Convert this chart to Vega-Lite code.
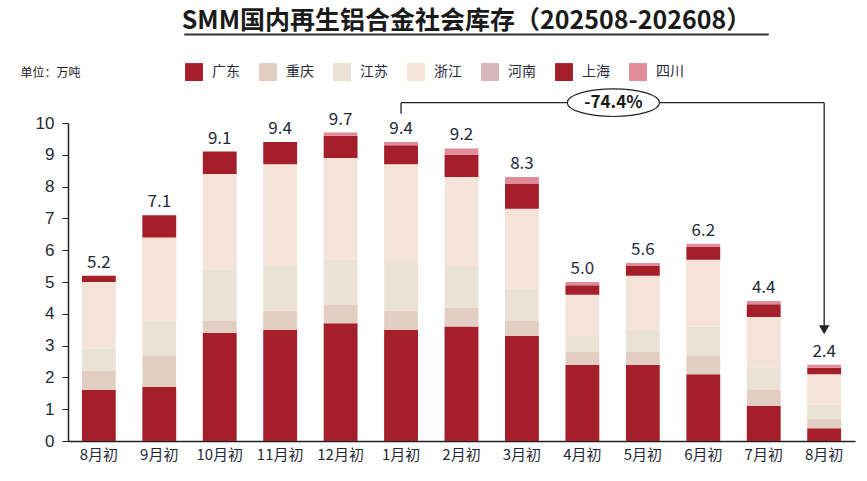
{
  "$schema": "https://vega.github.io/schema/vega-lite/v6.json",
  "autosize": "none",
  "width": 787,
  "height": 318,
  "padding": {"left": 68, "top": 123, "right": 12, "bottom": 40},
  "background": "white",
  "config": {
    "font": "Noto Sans CJK SC",
    "view": {"stroke": null},
    "axis": {"grid": false, "domainColor": "#222222", "domainWidth": 1.5, "labelColor": "#1f2937", "tickColor": "#222222"},
    "axisY": {"labelOverlap": false, "tickSize": 6, "labelFontSize": 17, "labelPadding": 8}
  },
  "title": {
    "text": "SMM国内再生铝合金社会库存（202508-202608）",
    "fontSize": 25,
    "fontWeight": "bold",
    "color": "#1a1a1a",
    "anchor": "middle",
    "offset": 0,
    "dx": 5
  },
  "datasets": {
    "stock": [
      {"m": "2025-08", "p": "广东", "v": 1.6}, {"m": "2025-08", "p": "重庆", "v": 0.6}, {"m": "2025-08", "p": "江苏", "v": 0.7}, {"m": "2025-08", "p": "浙江", "v": 2.1}, {"m": "2025-08", "p": "上海", "v": 0.2},
      {"m": "2025-09", "p": "广东", "v": 1.7}, {"m": "2025-09", "p": "重庆", "v": 1.0}, {"m": "2025-09", "p": "江苏", "v": 1.1}, {"m": "2025-09", "p": "浙江", "v": 2.6}, {"m": "2025-09", "p": "上海", "v": 0.7},
      {"m": "2025-10", "p": "广东", "v": 3.4}, {"m": "2025-10", "p": "重庆", "v": 0.4}, {"m": "2025-10", "p": "江苏", "v": 1.6}, {"m": "2025-10", "p": "浙江", "v": 3.0}, {"m": "2025-10", "p": "上海", "v": 0.7},
      {"m": "2025-11", "p": "广东", "v": 3.5}, {"m": "2025-11", "p": "重庆", "v": 0.6}, {"m": "2025-11", "p": "江苏", "v": 1.4}, {"m": "2025-11", "p": "浙江", "v": 3.2}, {"m": "2025-11", "p": "上海", "v": 0.7},
      {"m": "2025-12", "p": "广东", "v": 3.7}, {"m": "2025-12", "p": "重庆", "v": 0.6}, {"m": "2025-12", "p": "江苏", "v": 1.4}, {"m": "2025-12", "p": "浙江", "v": 3.2}, {"m": "2025-12", "p": "上海", "v": 0.7}, {"m": "2025-12", "p": "四川", "v": 0.1},
      {"m": "2026-01", "p": "广东", "v": 3.5}, {"m": "2026-01", "p": "重庆", "v": 0.6}, {"m": "2026-01", "p": "江苏", "v": 1.5}, {"m": "2026-01", "p": "浙江", "v": 3.1}, {"m": "2026-01", "p": "上海", "v": 0.6}, {"m": "2026-01", "p": "四川", "v": 0.1},
      {"m": "2026-02", "p": "广东", "v": 3.6}, {"m": "2026-02", "p": "重庆", "v": 0.6}, {"m": "2026-02", "p": "江苏", "v": 1.3}, {"m": "2026-02", "p": "浙江", "v": 2.8}, {"m": "2026-02", "p": "上海", "v": 0.7}, {"m": "2026-02", "p": "四川", "v": 0.2},
      {"m": "2026-03", "p": "广东", "v": 3.3}, {"m": "2026-03", "p": "重庆", "v": 0.5}, {"m": "2026-03", "p": "江苏", "v": 1.0}, {"m": "2026-03", "p": "浙江", "v": 2.5}, {"m": "2026-03", "p": "上海", "v": 0.8}, {"m": "2026-03", "p": "四川", "v": 0.2},
      {"m": "2026-04", "p": "广东", "v": 2.4}, {"m": "2026-04", "p": "重庆", "v": 0.4}, {"m": "2026-04", "p": "江苏", "v": 0.5}, {"m": "2026-04", "p": "浙江", "v": 1.3}, {"m": "2026-04", "p": "上海", "v": 0.3}, {"m": "2026-04", "p": "四川", "v": 0.1},
      {"m": "2026-05", "p": "广东", "v": 2.4}, {"m": "2026-05", "p": "重庆", "v": 0.4}, {"m": "2026-05", "p": "江苏", "v": 0.7}, {"m": "2026-05", "p": "浙江", "v": 1.7}, {"m": "2026-05", "p": "上海", "v": 0.3}, {"m": "2026-05", "p": "四川", "v": 0.1},
      {"m": "2026-06", "p": "广东", "v": 2.1}, {"m": "2026-06", "p": "重庆", "v": 0.6}, {"m": "2026-06", "p": "江苏", "v": 0.9}, {"m": "2026-06", "p": "浙江", "v": 2.1}, {"m": "2026-06", "p": "上海", "v": 0.4}, {"m": "2026-06", "p": "四川", "v": 0.1},
      {"m": "2026-07", "p": "广东", "v": 1.1}, {"m": "2026-07", "p": "重庆", "v": 0.5}, {"m": "2026-07", "p": "江苏", "v": 0.7}, {"m": "2026-07", "p": "浙江", "v": 1.6}, {"m": "2026-07", "p": "上海", "v": 0.4}, {"m": "2026-07", "p": "四川", "v": 0.1},
      {"m": "2026-08", "p": "广东", "v": 0.4}, {"m": "2026-08", "p": "重庆", "v": 0.3}, {"m": "2026-08", "p": "江苏", "v": 0.45}, {"m": "2026-08", "p": "浙江", "v": 0.95}, {"m": "2026-08", "p": "上海", "v": 0.2}, {"m": "2026-08", "p": "四川", "v": 0.1}
    ],
    "legs": [
      {"m": "2026-01", "y": 10.29, "y2": 10.64},
      {"m": "2026-08", "y": 10.64, "y2": 3.5}
    ],
    "span": [
      {"m": "2026-01", "m2": "2026-08", "y": 10.64}
    ],
    "head": [
      {"m": "2026-08", "y": 3.5}
    ],
    "change": [
      {"m": "2026-04", "y": 10.64, "label": "-74.4%"}
    ],
    "underline": [
      {"m": "2025-09", "m2": "2026-07", "y": 12.78}
    ]
  },
  "layer": [
    {
      "data": {"name": "stock"},
      "transform": [
        {"calculate": "indexof(['广东','重庆','江苏','浙江','河南','上海','四川'], datum.p)", "as": "ord"}
      ],
      "mark": {"type": "bar"},
      "encoding": {
        "x": {
          "field": "m",
          "type": "nominal",
          "scale": {"type": "band", "domain": ["2025-08","2025-09","2025-10","2025-11","2025-12","2026-01","2026-02","2026-03","2026-04","2026-05","2026-06","2026-07","2026-08"], "paddingInner": 0.44, "paddingOuter": 0.23},
          "axis": {"title": null, "labelAngle": 0, "ticks": false, "labelFontSize": 15, "labelPadding": 6, "labelExpr": "toNumber(slice(datum.value, 5)) + '月初'"}
        },
        "y": {
          "field": "v",
          "type": "quantitative",
          "stack": "zero",
          "scale": {"domain": [0, 10], "nice": false},
          "axis": {
            "title": "单位：万吨",
            "titleAngle": 0,
            "titleAlign": "left",
            "titleBaseline": "middle",
            "titleX": -48,
            "titleY": -51,
            "titleFontSize": 12,
            "titleFontWeight": "normal",
            "titleColor": "#222222",
            "values": [0,1,2,3,4,5,6,7,8,9,10],
            "labelOverlap": false,
            "labelFont": "Liberation Sans",
            "labelFontSize": 17,
            "labelPadding": 8
          }
        },
        "color": {
          "field": "p",
          "type": "nominal",
          "scale": {
            "domain": ["广东","重庆","江苏","浙江","河南","上海","四川"],
            "range": ["#a51f2b","#e3cec4","#eae2d4","#f3e3d8","#d8b7ba","#a51f2b","#e08c9a"]
          },
          "legend": {
            "title": null,
            "orient": "none",
            "legendX": 117,
            "legendY": -60,
            "direction": "horizontal",
            "symbolType": "square",
            "symbolSize": 320,
            "symbolStrokeWidth": 0,
            "labelFontSize": 14,
            "labelColor": "#2b2b3b",
            "labelOffset": 9,
            "columnPadding": 19
          }
        },
        "order": {"field": "ord", "type": "quantitative"}
      }
    },
    {
      "data": {"name": "stock"},
      "transform": [
        {"aggregate": [{"op": "sum", "field": "v", "as": "total"}], "groupby": ["m"]}
      ],
      "mark": {"type": "text", "baseline": "bottom", "dy": -4, "fontSize": 17, "color": "#1e2a3a"},
      "encoding": {
        "x": {"field": "m", "type": "nominal", "axis": {"title": null, "labelAngle": 0, "ticks": false, "labelFontSize": 15, "labelPadding": 6, "labelExpr": "toNumber(slice(datum.value, 5)) + '月初'"}},
        "y": {"field": "total", "type": "quantitative", "scale": {"domain": [0, 10], "nice": false}, "axis": {"title": "单位：万吨", "values": [0,1,2,3,4,5,6,7,8,9,10], "labelOverlap": false, "labelFont": "Liberation Sans", "labelFontSize": 17, "labelPadding": 8}},
        "text": {"field": "total", "type": "quantitative", "format": ".1f"}
      }
    },
    {
      "data": {"name": "legs"},
      "mark": {"type": "rule", "color": "#222222", "strokeWidth": 1.3},
      "encoding": {
        "x": {"field": "m", "type": "nominal", "axis": {"title": null, "labelAngle": 0, "ticks": false, "labelFontSize": 15, "labelPadding": 6, "labelExpr": "toNumber(slice(datum.value, 5)) + '月初'"}},
        "y": {"field": "y", "type": "quantitative", "scale": {"domain": [0, 10], "nice": false}, "axis": {"title": "单位：万吨", "values": [0,1,2,3,4,5,6,7,8,9,10], "labelOverlap": false, "labelFont": "Liberation Sans", "labelFontSize": 17, "labelPadding": 8}},
        "y2": {"field": "y2"}
      }
    },
    {
      "data": {"name": "span"},
      "mark": {"type": "rule", "color": "#222222", "strokeWidth": 1.3},
      "encoding": {
        "x": {"field": "m", "type": "nominal", "axis": {"title": null, "labelAngle": 0, "ticks": false, "labelFontSize": 15, "labelPadding": 6, "labelExpr": "toNumber(slice(datum.value, 5)) + '月初'"}},
        "x2": {"field": "m2"},
        "y": {"field": "y", "type": "quantitative", "scale": {"domain": [0, 10], "nice": false}, "axis": {"title": "单位：万吨", "values": [0,1,2,3,4,5,6,7,8,9,10], "labelOverlap": false, "labelFont": "Liberation Sans", "labelFontSize": 17, "labelPadding": 8}}
      }
    },
    {
      "data": {"name": "head"},
      "mark": {"type": "point", "shape": "triangle-down", "size": 110, "filled": true, "color": "#222222", "opacity": 1},
      "encoding": {
        "x": {"field": "m", "type": "nominal", "axis": {"title": null, "labelAngle": 0, "ticks": false, "labelFontSize": 15, "labelPadding": 6, "labelExpr": "toNumber(slice(datum.value, 5)) + '月初'"}},
        "y": {"field": "y", "type": "quantitative", "scale": {"domain": [0, 10], "nice": false}, "axis": {"title": "单位：万吨", "values": [0,1,2,3,4,5,6,7,8,9,10], "labelOverlap": false, "labelFont": "Liberation Sans", "labelFontSize": 17, "labelPadding": 8}}
      }
    },
    {
      "data": {"name": "change"},
      "mark": {"type": "point", "shape": "M-1,0A1,0.3,0,1,1,1,0A1,0.3,0,1,1,-1,0Z", "size": 8500, "filled": true, "fill": "white", "stroke": "#222222", "strokeWidth": 1.2, "opacity": 1, "xOffset": 31},
      "encoding": {
        "x": {"field": "m", "type": "nominal", "axis": {"title": null, "labelAngle": 0, "ticks": false, "labelFontSize": 15, "labelPadding": 6, "labelExpr": "toNumber(slice(datum.value, 5)) + '月初'"}},
        "y": {"field": "y", "type": "quantitative", "scale": {"domain": [0, 10], "nice": false}, "axis": {"title": "单位：万吨", "values": [0,1,2,3,4,5,6,7,8,9,10], "labelOverlap": false, "labelFont": "Liberation Sans", "labelFontSize": 17, "labelPadding": 8}}
      }
    },
    {
      "data": {"name": "change"},
      "mark": {"type": "text", "fontSize": 17, "fontWeight": "bold", "color": "#1a1a1a", "xOffset": 31, "baseline": "middle"},
      "encoding": {
        "x": {"field": "m", "type": "nominal", "axis": {"title": null, "labelAngle": 0, "ticks": false, "labelFontSize": 15, "labelPadding": 6, "labelExpr": "toNumber(slice(datum.value, 5)) + '月初'"}},
        "y": {"field": "y", "type": "quantitative", "scale": {"domain": [0, 10], "nice": false}, "axis": {"title": "单位：万吨", "values": [0,1,2,3,4,5,6,7,8,9,10], "labelOverlap": false, "labelFont": "Liberation Sans", "labelFontSize": 17, "labelPadding": 8}},
        "text": {"field": "label"}
      }
    },
    {
      "data": {"name": "underline"},
      "mark": {"type": "rule", "color": "#333333", "strokeWidth": 2, "xOffset": 25, "x2Offset": 5},
      "encoding": {
        "x": {"field": "m", "type": "nominal", "axis": {"title": null, "labelAngle": 0, "ticks": false, "labelFontSize": 15, "labelPadding": 6, "labelExpr": "toNumber(slice(datum.value, 5)) + '月初'"}},
        "x2": {"field": "m2"},
        "y": {"field": "y", "type": "quantitative", "scale": {"domain": [0, 10], "nice": false}, "axis": {"title": "单位：万吨", "values": [0,1,2,3,4,5,6,7,8,9,10], "labelOverlap": false, "labelFont": "Liberation Sans", "labelFontSize": 17, "labelPadding": 8}}
      }
    }
  ]
}
